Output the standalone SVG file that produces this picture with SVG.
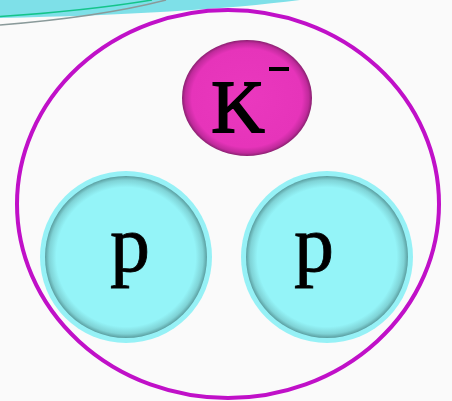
<svg xmlns="http://www.w3.org/2000/svg" width="452" height="401" viewBox="0 0 452 401">
<defs>
<radialGradient id="gp" cx="0.5" cy="0.5" r="0.5">
<stop offset="0" stop-color="#94f4f8"/>
<stop offset="0.86" stop-color="#94f4f8"/>
<stop offset="0.95" stop-color="#7fd3d6"/>
<stop offset="1" stop-color="#5a9ea0"/>
</radialGradient>
<radialGradient id="gk" cx="0.5" cy="0.5" r="0.5">
<stop offset="0" stop-color="#ea38be"/>
<stop offset="0.85" stop-color="#e634ba"/>
<stop offset="0.95" stop-color="#c02a9c"/>
<stop offset="1" stop-color="#8a2070"/>
</radialGradient>
<style>
.ring{fill:#96f1f6}
.lbl{font-family:"Liberation Serif","Times New Roman",serif;fill:#000;stroke:#000}
</style>
</defs>
<rect width="452" height="401" fill="#fafafa"/>
<g id="decor">
<path d="M0 0 H300 Q190 14 0 18 Z" fill="#7ee0e8"/>
<path d="M0 16.5 Q85 11 152 0" fill="none" stroke="#14c48a" stroke-width="1.5"/>
<path d="M0 25 Q100 17 166 0" fill="none" stroke="#8a9a9a" stroke-width="1.5"/>
</g>
<g id="nucleus">
<ellipse cx="228" cy="204" rx="211" ry="194" fill="none" stroke="#c010c8" stroke-width="4"/>
</g>
<g id="kaon">
<ellipse cx="247" cy="98" rx="65" ry="58" fill="url(#gk)"/>
<text class="lbl" x="238" y="132" font-size="74" stroke-width="1.8" text-anchor="middle">K</text>
<rect x="269" y="67" width="20" height="4" fill="#000"/>
</g>
<g id="proton1">
<circle class="ring" cx="126" cy="257" r="86"/>
<circle cx="126" cy="257" r="81" fill="url(#gp)"/>
<text class="lbl" x="130" y="271" font-size="80" stroke-width="0.8" text-anchor="middle">p</text>
</g>
<g id="proton2">
<circle class="ring" cx="327" cy="257" r="86"/>
<circle cx="327" cy="257" r="81" fill="url(#gp)"/>
<text class="lbl" x="314" y="271" font-size="80" stroke-width="0.8" text-anchor="middle">p</text>
</g>
</svg>
